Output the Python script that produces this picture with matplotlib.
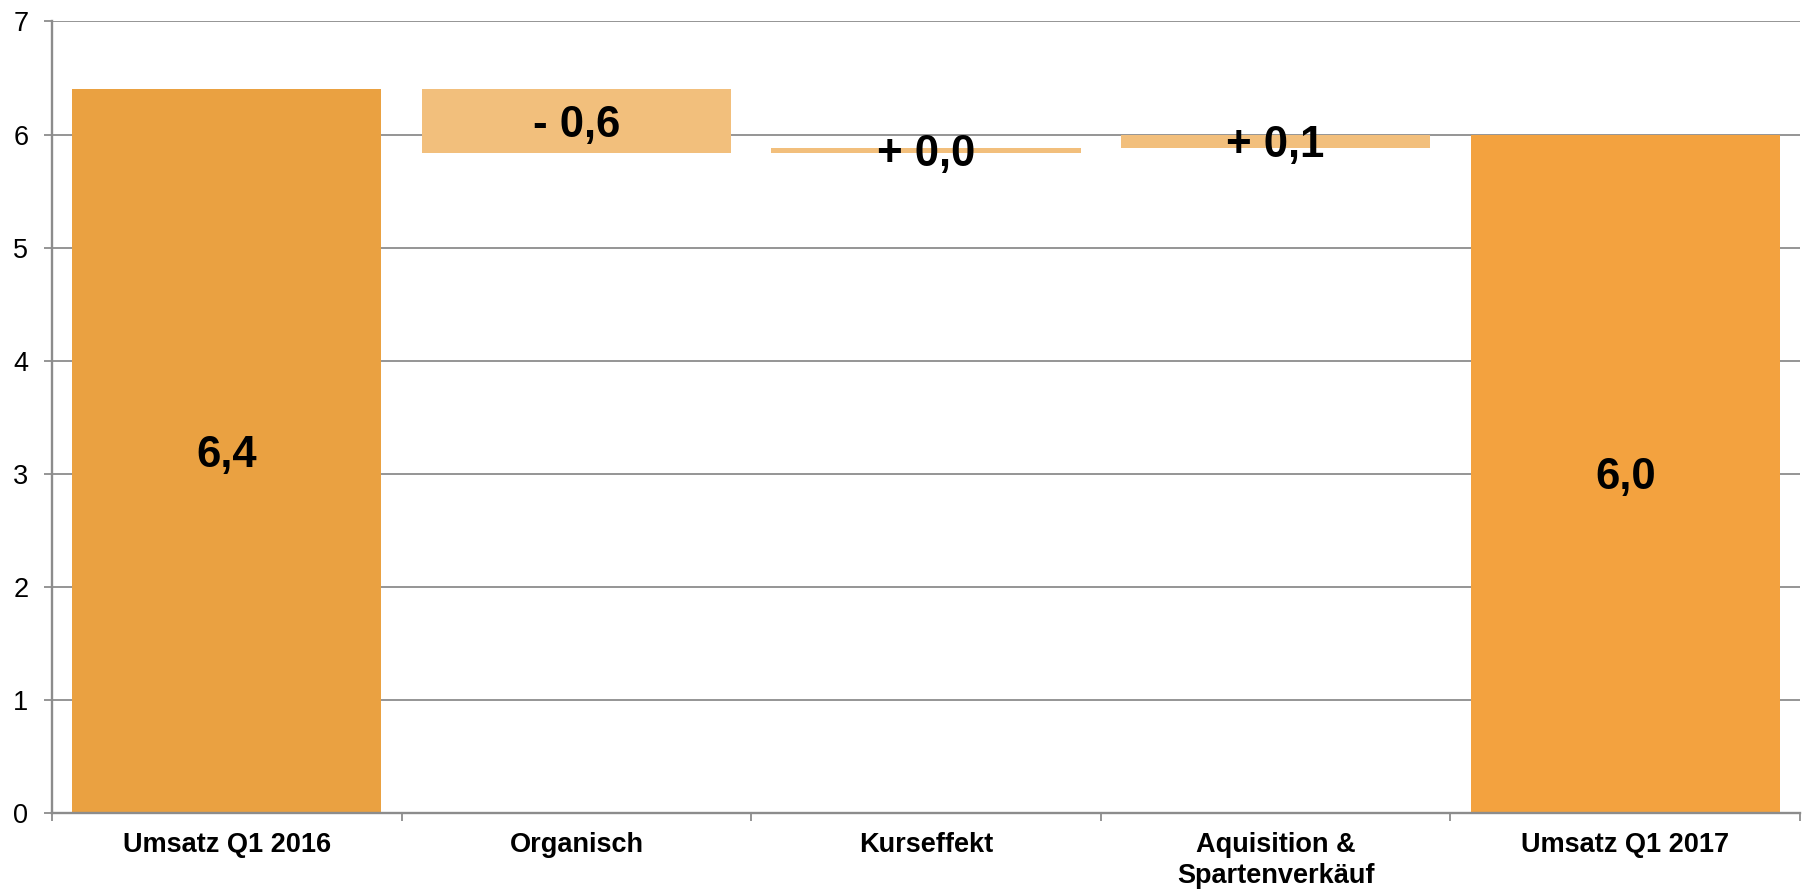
import numpy as np
import matplotlib.pyplot as plt
from matplotlib.ticker import FixedLocator

plt.rcParams['font.family'] = ['Liberation Sans', 'DejaVu Sans']

# data
categories = ['Umsatz Q1 2016', 'Organisch', 'Kurseffekt',
              'Aquisition &\nSpartenverkäuf', 'Umsatz Q1 2017']
start_value = 6.4
deltas = [-0.56, 0.04, 0.12]
end_value = 6.0
value_labels = ['6,4', '- 0,6', '+ 0,0', '+ 0,1', '6,0']

# colours
C_start = '#EAA141'
C_end = '#F3A23F'
C_delta = '#F2BF7C'
C_grid = '#8C8C8C'

# waterfall geometry
bottoms = [0.0]
heights = [start_value]
level = start_value
for d in deltas:
    bottoms.append(min(level, level + d))
    heights.append(abs(d))
    level += d
bottoms.append(0.0)
heights.append(end_value)
colors = [C_start] + [C_delta] * len(deltas) + [C_end]

fig = plt.figure(figsize=(18.04, 8.89), dpi=100)
ax = fig.add_axes([0.0288, 0.0855, 0.969, 0.891])

x = np.arange(len(categories))
ax.bar(x, heights, bottom=bottoms, width=0.885, color=colors,
       linewidth=0, zorder=3)

for xi, b, h, lab in zip(x, bottoms, heights, value_labels):
    ax.annotate(lab, (xi, b + h / 2), xytext=(0, -3), textcoords='offset points',
                ha='center', va='center', fontsize=31.5, fontweight='bold',
                color='black', zorder=4)

ax.set_xlim(-0.5, len(categories) - 0.5)
ax.set_ylim(0, 7.005)
ax.set_yticks(range(0, 8))
ax.set_xticks(x)
ax.set_xticklabels(categories, fontsize=19.5, fontweight='bold', linespacing=1.25)
ax.xaxis.set_minor_locator(FixedLocator(np.arange(-0.5, len(categories), 1.0)))

ax.grid(axis='y', color=C_grid, lw=1.3, zorder=0)
for sp in ['top', 'right']:
    ax.spines[sp].set_visible(False)
for sp in ['left', 'bottom']:
    ax.spines[sp].set_color(C_grid)
    ax.spines[sp].set_linewidth(1.7)
ax.spines['bottom'].set_zorder(5)

ax.tick_params(axis='y', direction='out', length=6, width=1.3, color=C_grid,
               labelsize=19.5, pad=11)
ax.tick_params(axis='x', which='major', length=0, pad=14)
ax.tick_params(axis='x', which='minor', direction='out', length=6, width=1.3,
               color=C_grid)

fig.savefig('out.png', dpi=100, facecolor='white')
